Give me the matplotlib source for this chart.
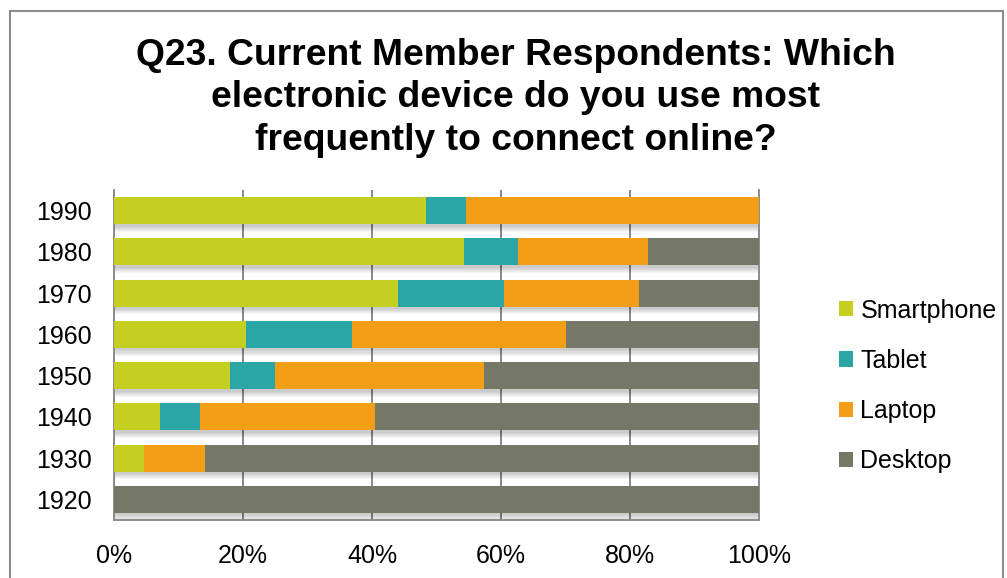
import matplotlib
matplotlib.use("Agg")
import matplotlib.pyplot as plt
from matplotlib.patches import Rectangle
from matplotlib.ticker import PercentFormatter

plt.rcParams["font.family"] = ["Liberation Sans", "DejaVu Sans"]

decades = ["1920", "1930", "1940", "1950", "1960", "1970", "1980", "1990"]
smartphone = [0.0, 4.7, 7.2, 18.0, 20.5, 44.1, 54.2, 48.3]
tablet = [0.0, 0.0, 6.2, 7.0, 16.4, 16.3, 8.5, 6.3]
laptop = [0.0, 9.4, 27.1, 32.3, 33.2, 21.0, 20.1, 45.4]
desktop = [100.0, 85.9, 59.5, 42.7, 29.9, 18.6, 17.2, 0.0]

series = [
    ("Smartphone", smartphone, "#c4cf1f"),
    ("Tablet", tablet, "#2ba6a6"),
    ("Laptop", laptop, "#f29f17"),
    ("Desktop", desktop, "#767867"),
]

W, H = 1007, 578
fig = plt.figure(figsize=(W / 100, H / 100), dpi=100)
ax = fig.add_axes([114 / W, 1 - 520 / H, (759 - 114) / W, (520 - 190) / H])

ypos = list(range(len(decades)))
bar_h = 0.66

# soft drop shadow under each bar (Excel style)
totals = [sum(vals) for vals in zip(smartphone, tablet, laptop, desktop)]
for k in range(6):
    ax.barh([y - 0.06 - k * 0.025 for y in ypos], totals, height=bar_h,
            color="black", alpha=0.035, linewidth=0, zorder=1)

left = [0.0] * len(decades)
for name, vals, color in series:
    ax.barh(ypos, vals, left=left, height=bar_h, color=color, label=name,
            linewidth=0, zorder=3)
    left = [a + b for a, b in zip(left, vals)]

ax.set_xlim(0, 100)
ax.set_ylim(-0.5, len(decades) - 0.5)
ax.set_xticks([0, 20, 40, 60, 80, 100])
ax.xaxis.set_major_formatter(PercentFormatter(decimals=0))
ax.set_yticks(ypos, decades)
ax.tick_params(axis="both", length=0, labelsize=18, colors="black")
ax.tick_params(axis="x", pad=17)
ax.tick_params(axis="y", pad=16)
ax.grid(axis="x", color="#888888", linewidth=1.4, zorder=0)
ax.set_axisbelow(True)
for side in ["left", "bottom", "right"]:
    ax.spines[side].set_color("#8c8c8c")
    ax.spines[side].set_linewidth(1.4)
ax.spines["top"].set_visible(False)

fig.text(0.512, 1 - 98 / H,
         "Q23. Current Member Respondents: Which\n"
         "electronic device do you use most\n"
         "frequently to connect online?",
         ha="center", va="center", fontsize=26.8, fontweight="bold",
         linespacing=1.28)

fig.legend(loc="center left", bbox_to_anchor=(839 / W, 1 - 386 / H),
           frameon=False, fontsize=18, handlelength=0.56, handleheight=0.56,
           handletextpad=0.3, labelspacing=1.05, borderpad=0,
           borderaxespad=0)

fig.add_artist(Rectangle((10 / W, -0.1), (1003 - 10) / W, 1.1 - 11 / H,
                         transform=fig.transFigure, fill=False,
                         edgecolor="#8c8c8c", linewidth=1.5))

fig.savefig("out.png", dpi=100)
